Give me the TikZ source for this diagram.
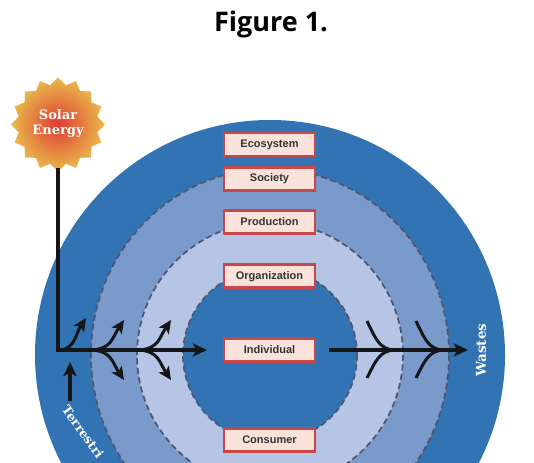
\documentclass[tikz,border=0pt]{standalone}
\usepackage{fontspec}
\setmainfont{Liberation Sans}
\newfontfamily\titlefont{Open Sans}
\newfontfamily\slabfont{DejaVu Serif}
\usetikzlibrary{arrows.meta}
\definecolor{deepblue}{HTML}{3274B3}
\definecolor{midblue}{HTML}{7A9ACB}
\definecolor{paleblue}{HTML}{B6C5E5}
\definecolor{dashgrey}{HTML}{4F5570}
\definecolor{boxfill}{HTML}{F8E2DA}
\definecolor{boxline}{HTML}{C9474A}
\definecolor{sunred}{HTML}{DE3B33}
\definecolor{sunyellow}{HTML}{E9BB4C}
\definecolor{inkline}{HTML}{141618}
\tikzset{
  x=1pt,y=-1pt,
  ring/.style={draw=dashgrey,line width=1.7pt,dash pattern=on 6pt off 3.5pt},
  labelbox/.style={draw=boxline,fill=boxfill,line width=2.2pt,minimum width=91pt,minimum height=23pt,inner sep=0pt,text height=8pt,text depth=2pt,font=\fontsize{11}{13}\selectfont\bfseries,text=black!80},
  slab/.style={text=white,inner sep=0pt},
  flow/.style={draw=inkline,line width=3.2pt,-{Stealth[length=14pt,width=13pt,inset=3pt]}},
  branch/.style={draw=inkline,line width=3pt,-{Stealth[length=13pt,width=12pt,inset=3pt]}},
  tail/.style={draw=inkline,line width=3pt},
}
\begin{document}
\begin{tikzpicture}
\useasboundingbox (0,0) rectangle (534,462);
\clip (0,0) rectangle (534,462);
\fill[white] (0,0) rectangle (534,462);
\node[font=\fontsize{27}{30}\selectfont\titlefont\bfseries,text=black] (title) at (271,24) {Figure 1.};
% rings
\fill[deepblue] (270,355) circle (235);
\fill[midblue] (270,355) ellipse [x radius=179,y radius=186];
\draw[ring] (270,355) ellipse [x radius=179,y radius=186];
\fill[paleblue] (270,355) circle (133);
\draw[ring] (270,355) circle (133);
\fill[deepblue] (270,355) circle (87);
\draw[ring] (270,355) circle (87);
% sun
\shade[inner color=sunred,outer color=sunyellow]
  plot[samples at={0,...,31},variable=\k]
  ({58+(47-7*mod(\k,2))*cos(\k*11.25-90)},{124.5+(47-7*mod(\k,2))*sin(\k*11.25-90)}) -- cycle;
\node[slab,align=center,font=\fontsize{13}{15}\selectfont\slabfont\bfseries] (sun) at (58,124) {Solar\\Energy};
% boxes
\node[labelbox] (eco) at (269.5,144.5) {Ecosystem};
\node[labelbox] (soc) at (269.5,179) {Society};
\node[labelbox] (pro) at (269.5,222) {Production};
\node[labelbox] (org) at (269.5,276) {Organization};
\node[labelbox] (ind) at (269.5,350) {Individual};
\node[labelbox] (con) at (269.5,440) {Consumer};
% coordinates
\coordinate (corner) at (58,350);
\coordinate (sunfoot) at (58,168);
\coordinate (wastein) at (329,350);
\coordinate (wasteout) at (468,350);
\coordinate (terrtail) at (70,401);
\coordinate (terrhead) at (70,362);
\coordinate (tip) at (207,350);
% left flows
\draw[tail,line width=3.2pt] (sunfoot) -- (corner);
\draw[flow] ([xshift=-1.6pt]corner) -- (tip);
\draw[branch] (63,350) .. controls (76,345) and (75,335) .. (86,318);
\draw[branch] (93,350) .. controls (112,348) and (112,338) .. (124,320);
\draw[branch] (93,350) .. controls (112,352) and (112,362) .. (124,380);
\draw[branch] (140,350) .. controls (159,348) and (159,338) .. (171,320);
\draw[branch] (140,350) .. controls (159,352) and (159,362) .. (171,380);
\draw[flow] (terrtail) -- (terrhead);
\node[slab,rotate=-54,anchor=west,font=\fontsize{12.5}{14}\selectfont\slabfont\bfseries] (terr) at (65,407) {Terrestri};
% right flows
\draw[flow] (wastein) -- (wasteout);
\draw[tail] (367,321) .. controls (376,340) and (380,349) .. (394,350);
\draw[tail] (367,378) .. controls (376,360) and (380,351) .. (394,350);
\draw[tail] (416,321) .. controls (425,340) and (429,349) .. (443,350);
\draw[tail] (416,378) .. controls (425,360) and (429,351) .. (443,350);
\node[slab,rotate=90,font=\fontsize{13.5}{14}\selectfont\slabfont\bfseries] (waste) at (481,350) {Wastes};
\end{tikzpicture}
\end{document}
